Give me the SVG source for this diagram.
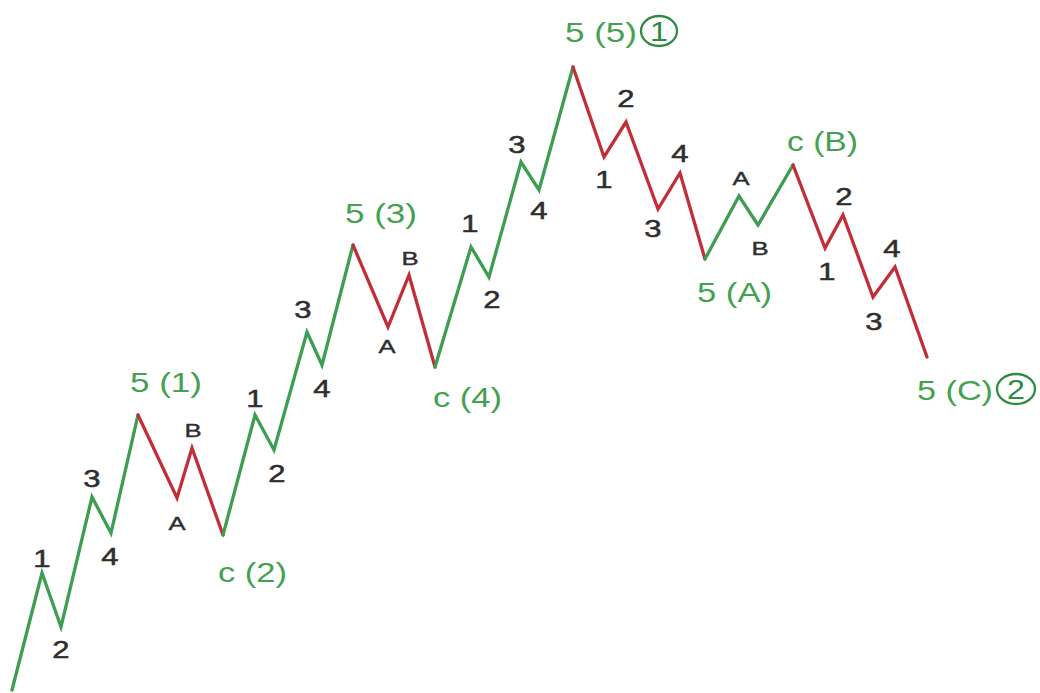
<svg xmlns="http://www.w3.org/2000/svg" width="1040" height="693" viewBox="0 0 1040 693">
<style>
.g{fill:none;stroke:#3d9d50;stroke-width:3.3;stroke-linejoin:miter;stroke-linecap:round}
.r{fill:none;stroke:#c22e38;stroke-width:3.3;stroke-linejoin:miter;stroke-linecap:round}
.n{font-family:"Liberation Sans",Arial,sans-serif;font-size:23px;fill:#2e2e2e;stroke:#2e2e2e;stroke-width:0.5;text-anchor:middle}
.l{font-family:"Liberation Sans",Arial,sans-serif;font-size:19px;fill:#2e2e2e;stroke:#2e2e2e;stroke-width:0.4;text-anchor:middle}
.w{font-family:"Liberation Sans",Arial,sans-serif;font-size:28px;fill:#43a14f}
.c{fill:none;stroke:#2f8a42;stroke-width:2.3}
.k{font-family:"Liberation Sans",Arial,sans-serif;font-size:28px;fill:#2f8a42;text-anchor:middle}
</style>
<rect width="1040" height="693" fill="#ffffff"/>
<g id="connectors">
<polyline class="g" points="12,690 42,573 61,627 92,497 111,533 138,415"/>
<polyline class="r" points="138,415 177,498 192,448 223,535"/>
<polyline class="g" points="223,535 255,415 274,450 307,332 322,365 353,245"/>
<polyline class="r" points="353,245 388,327 409,275 435,367"/>
<polyline class="g" points="435,367 471,247 489,277 521,162 539,190 573,67"/>
<polyline class="r" points="573,67 604,157 626,122 658,209 680,173 705,259"/>
<polyline class="g" points="705,259 739,196 758,225 793,165"/>
<polyline class="r" points="793,165 825,248 843,215 873,297 895,267 927,357"/>
</g>
<g id="wave1-sub">
<text class="n" transform="translate(42,567) scale(1.35,1)">1</text>
<text class="n" transform="translate(61,658) scale(1.35,1)">2</text>
<text class="n" transform="translate(92,487) scale(1.35,1)">3</text>
<text class="n" transform="translate(110,565) scale(1.35,1)">4</text>
</g>
<g id="label-5-1"><text class="w" x="130" y="392" textLength="72" lengthAdjust="spacingAndGlyphs">5 (1)</text></g>
<g id="wave2-sub">
<text class="l" transform="translate(177,530) scale(1.35,1)">A</text>
<text class="l" transform="translate(193,437) scale(1.35,1)">B</text>
</g>
<g id="label-c-2"><text class="w" x="218" y="582" textLength="69" lengthAdjust="spacingAndGlyphs">c (2)</text></g>
<g id="wave3-sub">
<text class="n" transform="translate(255,407) scale(1.35,1)">1</text>
<text class="n" transform="translate(277,482) scale(1.35,1)">2</text>
<text class="n" transform="translate(303,318) scale(1.35,1)">3</text>
<text class="n" transform="translate(322,397) scale(1.35,1)">4</text>
</g>
<g id="label-5-3"><text class="w" x="345" y="223" textLength="72" lengthAdjust="spacingAndGlyphs">5 (3)</text></g>
<g id="wave4-sub">
<text class="l" transform="translate(387,353) scale(1.35,1)">A</text>
<text class="l" transform="translate(410,265) scale(1.35,1)">B</text>
</g>
<g id="label-c-4"><text class="w" x="433" y="407" textLength="69" lengthAdjust="spacingAndGlyphs">c (4)</text></g>
<g id="wave5-sub">
<text class="n" transform="translate(470,232) scale(1.35,1)">1</text>
<text class="n" transform="translate(492,308) scale(1.35,1)">2</text>
<text class="n" transform="translate(517,153) scale(1.35,1)">3</text>
<text class="n" transform="translate(539,219) scale(1.35,1)">4</text>
</g>
<g id="label-5-5-1">
<text class="w" x="565" y="42" textLength="72" lengthAdjust="spacingAndGlyphs">5 (5)</text>
<ellipse class="c" cx="659" cy="31" rx="18" ry="15"/>
<text class="k" transform="translate(659,41) scale(1.15,1)">1</text>
</g>
<g id="waveA-sub">
<text class="n" transform="translate(604,188) scale(1.35,1)">1</text>
<text class="n" transform="translate(626,107) scale(1.35,1)">2</text>
<text class="n" transform="translate(653,237) scale(1.35,1)">3</text>
<text class="n" transform="translate(680,162) scale(1.35,1)">4</text>
</g>
<g id="label-5-A"><text class="w" x="697" y="302" textLength="75" lengthAdjust="spacingAndGlyphs">5 (A)</text></g>
<g id="waveB-sub">
<text class="l" transform="translate(741,185) scale(1.35,1)">A</text>
<text class="l" transform="translate(760,255) scale(1.35,1)">B</text>
</g>
<g id="label-c-B"><text class="w" x="787" y="151" textLength="71" lengthAdjust="spacingAndGlyphs">c (B)</text></g>
<g id="waveC-sub">
<text class="n" transform="translate(827,280) scale(1.35,1)">1</text>
<text class="n" transform="translate(844,205) scale(1.35,1)">2</text>
<text class="n" transform="translate(874,330) scale(1.35,1)">3</text>
<text class="n" transform="translate(892,257) scale(1.35,1)">4</text>
</g>
<g id="label-5-C-2">
<text class="w" x="917" y="400" textLength="76" lengthAdjust="spacingAndGlyphs">5 (C)</text>
<ellipse class="c" cx="1016" cy="389" rx="19" ry="15"/>
<text class="k" transform="translate(1016,399) scale(1.15,1)">2</text>
</g>
</svg>
